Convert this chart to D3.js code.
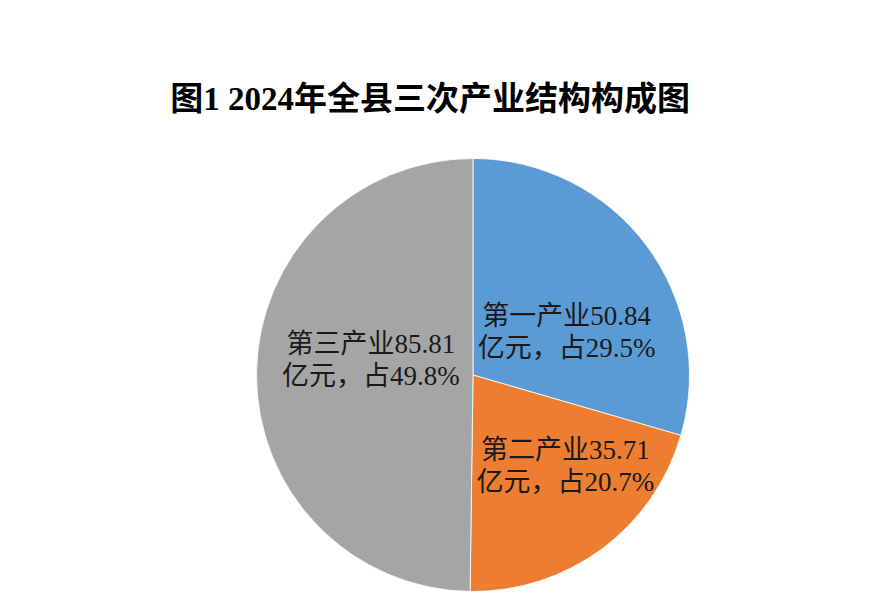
<!DOCTYPE html>
<html lang="zh">
  <head>
    <title>图1 2024年全县三次产业结构构成图</title>
    <meta charset="utf-8"/>
    <script type="text/javascript" src="https://cdn.jsdelivr.net/npm/d3@7"></script>
    <style>
     body { margin: 0; background: #fff; }
     svg { display: block; }
    </style>
  </head>
  <body>
    <script type="text/javascript">
     // data -----------------------------------------------------------------------------
     let categories = ["第一产业", "第二产业", "第三产业"];
     let values = [50.84, 35.71, 85.81];        // 亿元
     let shares = ["29.5%", "20.7%", "49.8%"];
     let colors = ["#5B9BD5", "#ED7D31", "#A5A5A5"];
     let title = "图1 2024年全县三次产业结构构成图";

     // label nudges from the slice centroid (Excel puts them a bit off-centre)
     let labelShift = [[7, 22], [28, 4], [6, -14]];

     let w = 885;
     let h = 610;
     let cx = 473;
     let cy = 375;
     let r = 216.5;

     let svg = d3.select("body").append("svg")
		 .attr("width", w)
		 .attr("height", h);

     // title ----------------------------------------------------------------------------
     svg.append("text")
	.text(title)
	.attr("x", 430)
	.attr("y", 110)
	.attr("text-anchor", "middle")
	.attr("font-family", "'Liberation Serif', 'Noto Sans CJK SC', serif")
	.attr("font-weight", "bold")
	.attr("font-size", "33px")
	.attr("fill", "#000");

     // pie ------------------------------------------------------------------------------
     let pie = d3.pie().sort(null).value(d => d);
     let arcs = pie(values);
     let arc = d3.arc().innerRadius(0).outerRadius(r);
     let labelArc = d3.arc().innerRadius(r * 0.5).outerRadius(r * 0.5);

     let g = svg.append("g").attr("transform", "translate(" + cx + "," + cy + ")");

     g.selectAll("path")
      .data(arcs)
      .enter()
      .append("path")
      .attr("d", arc)
      .attr("fill", (d, i) => colors[i])
      .attr("stroke", "#fff")
      .attr("stroke-width", 0.8);

     // labels, two lines each
     let labels = g.selectAll("text.lbl")
		   .data(arcs)
		   .enter()
		   .append("text")
		   .classed("lbl", true)
		   .attr("text-anchor", "middle")
		   .attr("font-family", "'Liberation Serif', 'Noto Sans CJK SC', serif")
		   .attr("font-size", "27px")
		   .attr("fill", "#1a1a1a")
		   .attr("transform", (d, i) => {
		     let c = labelArc.centroid(d);
		     return "translate(" + (c[0] + labelShift[i][0]) + "," + (c[1] + labelShift[i][1]) + ")";
		   });

     labels.append("tspan")
	   .attr("x", 0)
	   .attr("y", -7)
	   .text((d, i) => categories[i] + values[i].toFixed(2));

     labels.append("tspan")
	   .attr("x", 0)
	   .attr("y", 25)
	   .text((d, i) => "亿元，占" + shares[i]);
    </script>
  </body>
</html>
